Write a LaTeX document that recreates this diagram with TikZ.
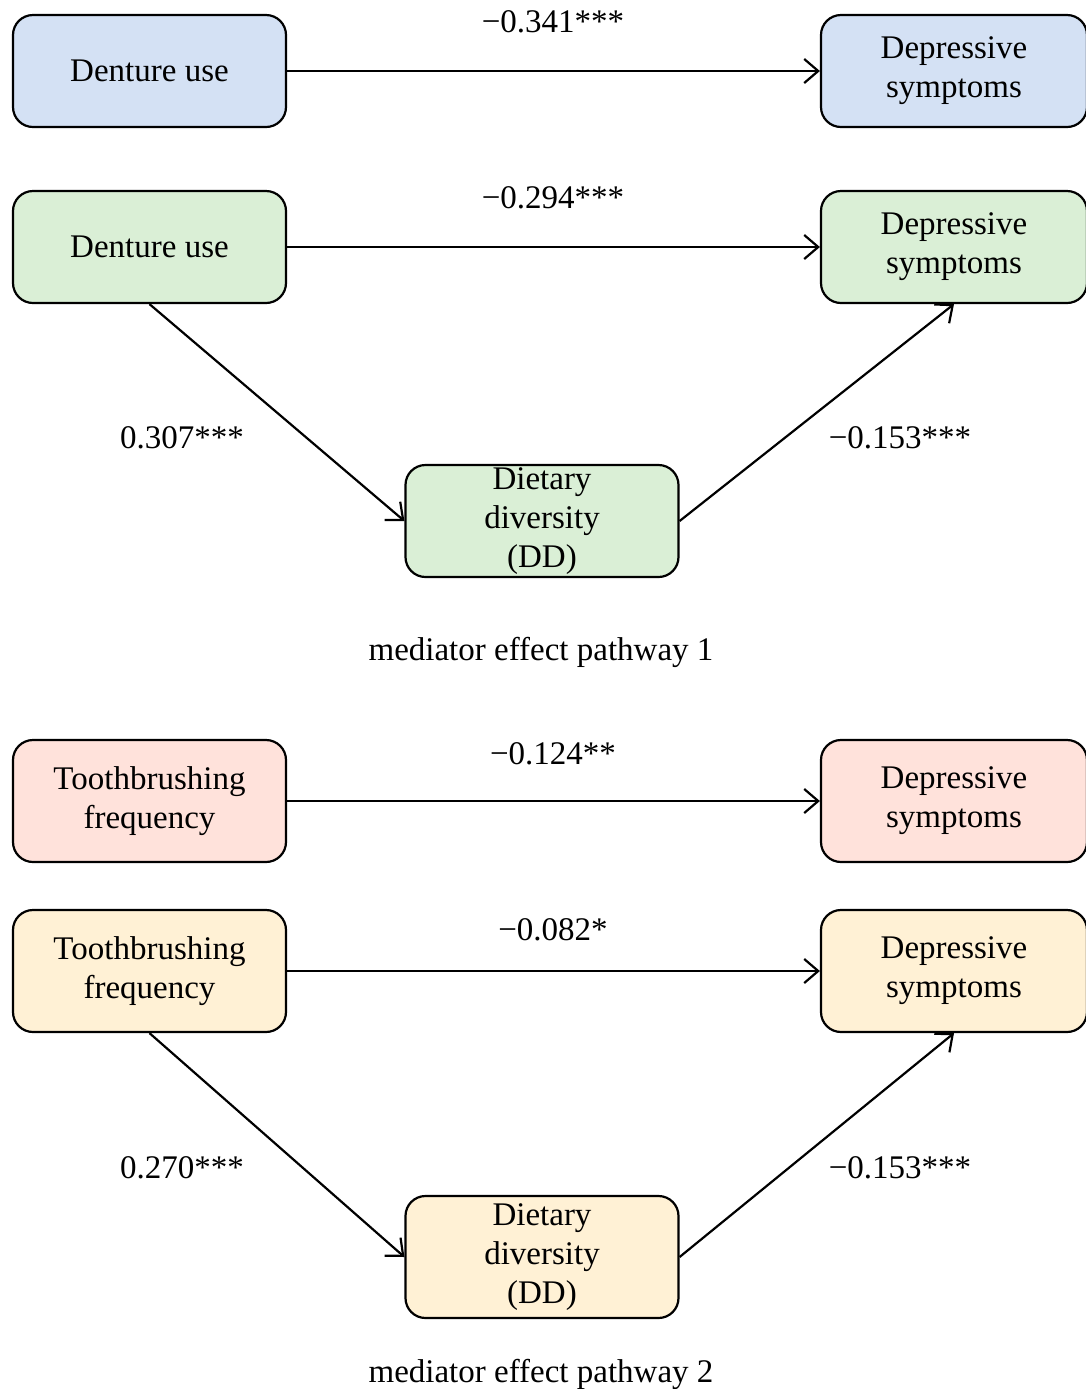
\documentclass[tikz,border=0pt]{standalone}
\usepackage{fontspec}
\setmainfont{Liberation Serif}
\usetikzlibrary{positioning,arrows.meta}
\definecolor{boxblue}{RGB}{212,225,244}
\definecolor{boxgreen}{RGB}{218,239,214}
\definecolor{boxpink}{RGB}{255,226,219}
\definecolor{boxyellow}{RGB}{255,241,213}

\begin{document}
\begin{tikzpicture}[x=0.5pt,y=-0.5pt,
    varbox/.style={draw, line width=1.1pt, rounded corners=10pt, inner sep=0pt,
      minimum width=136.5pt, minimum height=56pt, align=center,
      font=\fontsize{16.5}{19.5}\selectfont},
    outbox/.style={varbox, minimum width=133pt},
    tallbox/.style={minimum height=61pt},
    coef/.style={font=\fontsize{16.5}{19.5}\selectfont},
    effect/.style={-{Straight Barb[length=7pt,width=12pt]}, line width=1.1pt}
  ]
  \useasboundingbox (0,0) rectangle (1086,1389);

  % total effect, denture use
  \node[varbox, fill=boxblue] (du1) at (149.5,71) {Denture use};
  \node[outbox, fill=boxblue] (ds1) at (954,71) {Depressive\\symptoms};
  \node[coef] (c1) at (553,22) {−0.341***};
  \draw[effect] (du1) -- (ds1);

  % mediator pathway 1
  \node[varbox, fill=boxgreen] (du2) at (149.5,247) {Denture use};
  \node[outbox, fill=boxgreen] (ds2) at (954,247) {Depressive\\symptoms};
  \node[varbox, fill=boxgreen] (dd1) at (542,521) {Dietary\\diversity\\(DD)};
  \node[coef] (c2) at (553,198) {−0.294***};
  \node[coef] (a1) at (182,438) {0.307***};
  \node[coef] (b1) at (900,438) {−0.153***};
  \draw[effect] (du2) -- (ds2);
  \draw[effect] (du2.south) -- (dd1.west);
  \draw[effect] (dd1.east) -- (ds2.south);
  \node[coef] (cap1) at (541,652) {mediator effect pathway 1};

  % total effect, toothbrushing
  \node[varbox, tallbox, fill=boxpink] (tb1) at (149.5,801) {Toothbrushing\\frequency};
  \node[outbox, tallbox, fill=boxpink] (ds3) at (954,801) {Depressive\\symptoms};
  \node[coef] (c3) at (553,754) {−0.124**};
  \draw[effect] (tb1) -- (ds3);

  % mediator pathway 2
  \node[varbox, tallbox, fill=boxyellow] (tb2) at (149.5,971) {Toothbrushing\\frequency};
  \node[outbox, tallbox, fill=boxyellow] (ds4) at (954,971) {Depressive\\symptoms};
  \node[varbox, tallbox, fill=boxyellow] (dd2) at (542,1257) {Dietary\\diversity\\(DD)};
  \node[coef] (c4) at (553,930) {−0.082*};
  \node[coef] (a2) at (182,1168) {0.270***};
  \node[coef] (b2) at (900,1168) {−0.153***};
  \draw[effect] (tb2) -- (ds4);
  \draw[effect] (tb2.south) -- (dd2.west);
  \draw[effect] (dd2.east) -- (ds4.south);
  \node[coef] (cap2) at (541,1374) {mediator effect pathway 2};
\end{tikzpicture}
\end{document}
